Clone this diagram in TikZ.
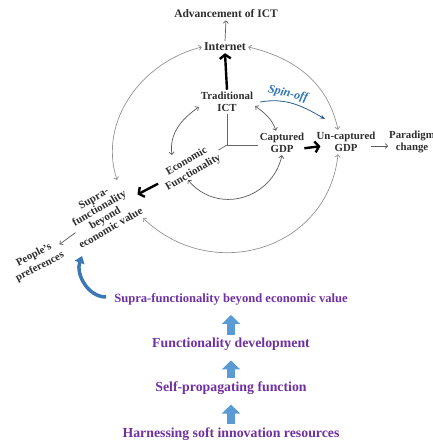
\documentclass[tikz,border=0pt]{standalone}
\usepackage{fontspec}
\setmainfont{Liberation Serif}
\usepackage{xcolor}
\usetikzlibrary{arrows.meta,positioning,calc}
\definecolor{txtgray}{HTML}{2E2E2E}
\definecolor{spinblue}{HTML}{2E75B6}
\definecolor{crescblue}{HTML}{3B78B5}
\definecolor{blockblue}{HTML}{5B9BD5}
\definecolor{purp}{HTML}{7030A0}

\begin{document}
\begin{tikzpicture}[x=1pt, y=1pt,
  lbl/.style={font=\bfseries\fontsize{10.8}{12.5}\selectfont, text=txtgray,
              align=center, inner sep=2pt},
  rlbl/.style={lbl, rotate=30},
  stage/.style={font=\bfseries\fontsize{13.8}{15}\selectfont, text=purp, inner sep=2pt},
  outer/.style={gray!85, line width=0.7pt,
                {Straight Barb[length=2.5pt,width=5pt]}-{Straight Barb[length=2.5pt,width=5pt]}},
  inner/.style={black!65, line width=0.7pt,
                {Straight Barb[length=2.5pt,width=5pt]}-{Straight Barb[length=2.5pt,width=5pt]}},
  thin/.style={black!65, line width=0.7pt, -{Straight Barb[length=2.5pt,width=5pt]}},
  heavy/.style={black, line width=2.4pt, -{Straight Barb[length=4pt,width=11pt]}},
  axis/.style={black!60, line width=0.7pt},
  spinarr/.style={spinblue!80!black, line width=0.8pt, -{Stealth[length=5pt,width=4pt]}},
  cresc/.style={crescblue, line width=3.5pt, -{Triangle[length=7pt,width=10pt]}},
  blk/.style={blockblue, line width=8pt, -{Triangle[length=9pt,width=18pt]},
              shorten <=1pt, shorten >=8pt},
]
\useasboundingbox (0,0) rectangle (433,445);

% cycle labels
\node[lbl, font=\bfseries\fontsize{11.5}{13}\selectfont] (adv) at (226,431) {Advancement of ICT};
\node[lbl, font=\bfseries\fontsize{12}{13}\selectfont] (inet) at (225,398) {Internet};
\node[lbl] (tict) at (227,343) {Traditional\\ICT};
\node[lbl] (cgdp) at (282,302) {Captured\\GDP};
\node[lbl] (ugdp) at (346,303) {Un-captured\\GDP};
\node[lbl] (para) at (412,303) {Paradigm\\change};
\node[rlbl, font=\bfseries\fontsize{10.8}{13}\selectfont] (econ) at (190,278) {Economic\\Functionality};
\node[rlbl, font=\bfseries\fontsize{11}{11.5}\selectfont] (supra) at (102,232)
  {Supra-\\functionality\\beyond\\economic value};
\node[lbl, rotate=27, font=\bfseries\fontsize{10.8}{13}\selectfont] (ppl) at (37,184) {People's\\preferences};
\node[font=\bfseries\itshape\fontsize{12}{13}\selectfont, text=spinblue, rotate=-13] (spin) at (288,351) {Spin-off};
\coordinate (orig) at (227,300);

% purple chain
\node[stage, font=\bfseries\fontsize{12.6}{14}\selectfont] (sv) at (231,146) {Supra-functionality beyond economic value};
\node[stage] (func) at (231,101) {Functionality development};
\node[stage] (self) at (231,57) {Self-propagating function};
\node[stage] (harn) at (231,11) {Harnessing soft innovation resources};

% axes
\draw[axis] (tict.south) -- (orig) -- (orig -| cgdp.west);
\draw[axis] (orig) -- (econ);

% main flow
\draw[thin] (inet.north) -- (adv.south);
\draw[heavy] (tict.north) -- (inet.south);
\draw[heavy, shorten <=-2pt, shorten >=-6pt] ([yshift=-5pt]cgdp.east) -- ([yshift=-5pt]ugdp.west);
\draw[thin, shorten <=-7pt, shorten >=-1pt] ([yshift=-4pt]ugdp.east) -- ([yshift=-4pt]para.west);
\draw[heavy, shorten <=36pt, shorten >=40pt] (econ.center) -- (supra.center);
\draw[thin, shorten <=33pt, shorten >=28pt] (supra.center) -- (ppl.center);
\draw[spinarr] ([xshift=5pt]tict.east) to[out=10,in=150] ([shift={(-21,23)}]ugdp.center);

% inner loop
\draw[inner] ([yshift=-5pt]tict.west) to[out=215,in=98] ([shift={(-18,12)}]econ.center);
\draw[inner] ([yshift=-4pt]tict.east) to[out=-37,in=109] ([xshift=-6pt]cgdp.north);
\draw[inner] ([shift={(-2,-13)}]econ.center) to[out=-50,in=-103,looseness=1.2] (cgdp.south);

% outer loop
\draw[outer] (inet.west) to[out=194,in=108] ([shift={(15,33)}]supra.center);
\draw[outer] (inet.east) to[out=-13,in=102] ([xshift=-8pt]ugdp.north);
\draw[outer] ([shift={(41,-5)}]supra.center) to[out=-44,in=-96,looseness=1.2] ([xshift=-8pt]ugdp.south);

% development chain
\draw[cresc] ([shift={(-6,2)}]sv.west) to[out=180,in=-110] ([shift={(-20,-43)}]supra.center);
\draw[blk] (func) -- (sv);
\draw[blk] (self) -- (func);
\draw[blk] (harn) -- (self);
\end{tikzpicture}
\end{document}
